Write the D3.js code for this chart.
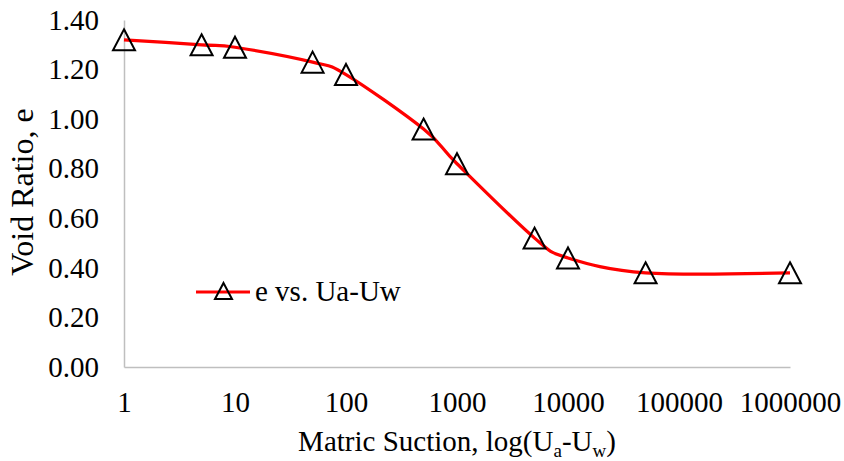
<!DOCTYPE html>
<html>
<head>
<meta charset="utf-8">
<script src="https://cdn.jsdelivr.net/npm/d3@7"></script>
<style>
  html, body { margin: 0; padding: 0; background: #fff; }
  svg { display: block; }
  svg text { font-family: "Liberation Serif", "Times New Roman", serif; fill: #000; }
</style>
</head>
<body>
<svg id="chart" width="844" height="461"></svg>
<script>
// Matric suction (kPa) and measured void ratio
const suction = [1, 5, 10, 50, 100, 500, 1000, 5000, 10000, 50000, 1000000];
const voidRatio = [1.32, 1.30, 1.29, 1.23, 1.18, 0.96, 0.82, 0.52, 0.44, 0.38, 0.38];
const xTicks = [1, 10, 100, 1000, 10000, 100000, 1000000];
const yTicks = [0, 0.2, 0.4, 0.6, 0.8, 1.0, 1.2, 1.4];
const seriesName = "e vs. Ua-Uw";

const svg = d3.select("#chart");
const plotLeft = 124, plotRight = 790, plotTop = 20, plotBottom = 367;

const x = d3.scaleLog().domain([1, 1000000]).range([plotLeft, plotRight]);
const y = d3.scaleLinear().domain([0, 1.4]).range([plotBottom, plotTop]);

const axisColor = "#BFBFBF";
const tickFont = 29;

// Axes
const yAxis = svg.append("g")
  .attr("transform", `translate(${plotLeft},0)`)
  .call(d3.axisLeft(y).tickValues(yTicks).tickSize(0).tickPadding(25).tickFormat(d3.format(".2f")));
const xAxis = svg.append("g")
  .attr("transform", `translate(0,${plotBottom})`)
  .call(d3.axisBottom(x).tickValues(xTicks).tickSize(0).tickPadding(25).tickFormat(d3.format("d")));

[yAxis, xAxis].forEach(g => {
  g.attr("font-family", null).attr("font-size", tickFont);
  g.select(".domain").attr("stroke", axisColor).attr("stroke-width", 1.5);
  g.selectAll("text").attr("fill", "#000");
});
xAxis.selectAll("text").attr("dy", "0.68em");

// Axis titles
svg.append("text")
  .attr("transform", `translate(33,192) rotate(-90)`)
  .attr("text-anchor", "middle")
  .attr("font-size", 32)
  .text("Void Ratio, e");

const xt = svg.append("text")
  .attr("x", (plotLeft + plotRight) / 2)
  .attr("y", 451)
  .attr("text-anchor", "middle")
  .attr("font-size", 29);
xt.append("tspan").text("Matric Suction, log(U");
xt.append("tspan").attr("font-size", 19).attr("dy", 6).text("a");
xt.append("tspan").attr("dy", -6).text("-U");
xt.append("tspan").attr("font-size", 19).attr("dy", 6).text("w");
xt.append("tspan").attr("dy", -6).text(")");

// Smoothed series line
const pts = suction.map((s, i) => [x(s), y(voidRatio[i])]);
const line = d3.line().curve(d3.curveCardinal.tension(0));
svg.append("path")
  .attr("d", line(pts))
  .attr("fill", "none")
  .attr("stroke", "#FF0000")
  .attr("stroke-width", 3.2)
  .attr("stroke-linejoin", "round");

// Triangle markers (centered on bounding box)
function tri(cx, cy, w, h) {
  return `M${cx},${cy - h / 2}L${cx + w / 2},${cy + h / 2}L${cx - w / 2},${cy + h / 2}Z`;
}
svg.append("g").selectAll("path")
  .data(pts)
  .join("path")
  .attr("d", d => tri(d[0], d[1], 22, 21))
  .attr("fill", "none")
  .attr("stroke", "#000")
  .attr("stroke-width", 2);

// Legend
const lg = svg.append("g");
lg.append("line")
  .attr("x1", 196).attr("x2", 250).attr("y1", 292).attr("y2", 292)
  .attr("stroke", "#FF0000").attr("stroke-width", 3.2);
lg.append("path")
  .attr("d", tri(223.5, 291, 17, 16))
  .attr("fill", "none").attr("stroke", "#000").attr("stroke-width", 2);
lg.append("text")
  .attr("x", 255).attr("y", 301)
  .attr("font-size", 29)
  .text(seriesName);
</script>
</body>
</html>
